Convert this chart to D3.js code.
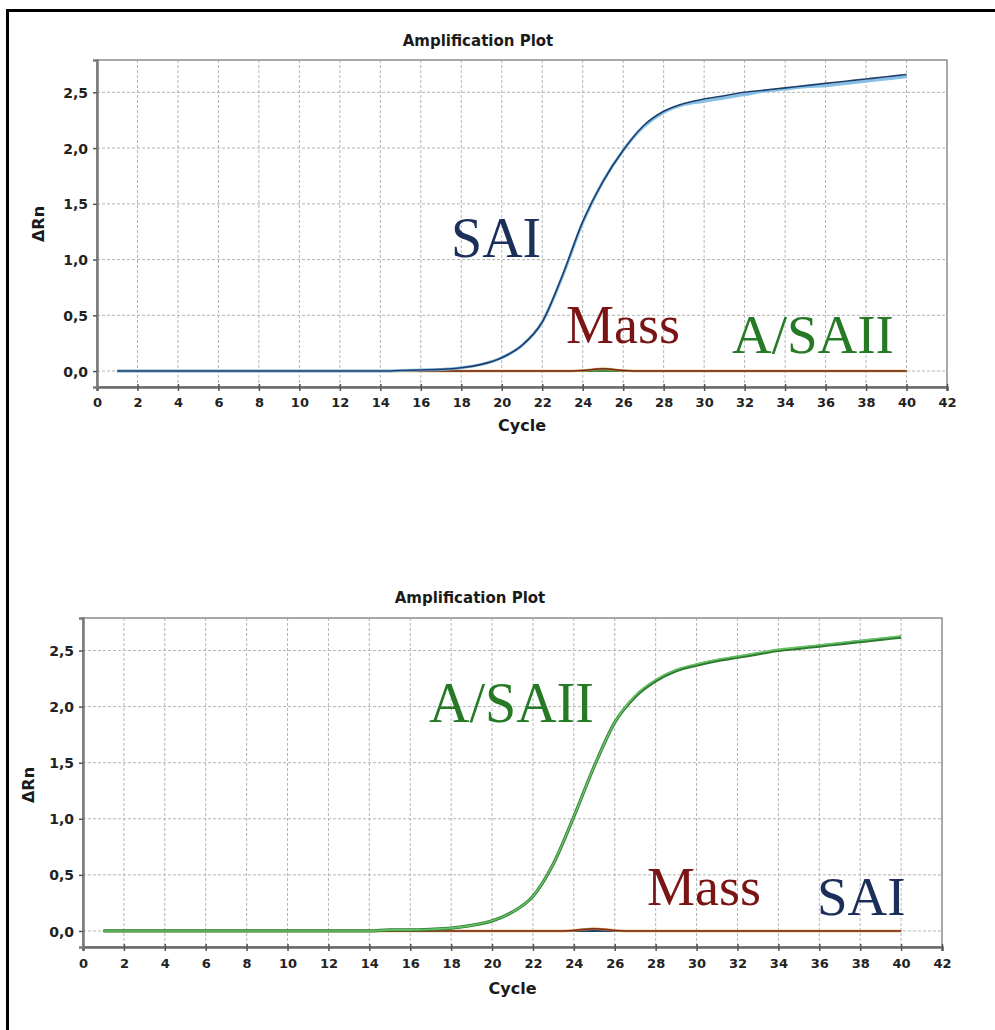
<!DOCTYPE html>
<html>
<head>
<meta charset="utf-8">
<script src="https://cdn.jsdelivr.net/npm/d3@7"></script>
<style>
  body { margin: 0; background: #fff; }
  svg { display: block; }
  .tick-lbl { font-family: "DejaVu Sans", sans-serif; font-weight: bold; fill: #222; }
  .ttl { font-family: "DejaVu Sans", sans-serif; font-weight: bold; fill: #1a1a1a; }
  .ann { font-family: "Liberation Serif", "Times New Roman", serif; }
</style>
</head>
<body>
<div id="chart"></div>
<script>
var cycles = [1,2,3,4,5,6,7,8,9,10,11,12,13,14,15,16,17,18,19,20,
              21,22,23,24,25,26,27,28,29,30,31,32,33,34,35,36,37,38,39,40];

var xTicks = [0,2,4,6,8,10,12,14,16,18,20,22,24,26,28,30,32,34,36,38,40,42];
var yTicks = [0, 0.5, 1.0, 1.5, 2.0, 2.5];

// top plot: SAI amplifies
var saiTopA = [0,0,0,0,0,0,0,0,0,0,0,0,0,0,0.005,0.01,0.015,0.03,0.06,0.12,
               0.23,0.44,0.86,1.34,1.70,1.98,2.20,2.33,2.40,2.44,2.47,2.50,2.52,2.54,2.56,2.58,2.60,2.62,2.64,2.66];
var saiTopB = [0,0,0,0,0,0,0,0,0,0,0,0,0,0,0.005,0.01,0.015,0.03,0.06,0.12,
               0.23,0.44,0.85,1.33,1.70,1.98,2.19,2.32,2.39,2.42,2.45,2.48,2.51,2.53,2.55,2.56,2.58,2.60,2.62,2.64];
var massTop = [0,0,0,0,0,0,0,0,0,0,0,0,0,0,0,0,0,0,0,0,
               0,0,0,0.005,0.02,0.005,0,0,0,0,0,0,0,0,0,0,0,0,0,0];
var asaiiTop = [0,0,0,0,0,0,0,0,0,0,0,0,0,0,0,0,0,0,0,0,
                0,0,0,0,0,0,0,0,0,0,0,0,0,0,0,0,0,0,0,0];

// bottom plot: A/SAII amplifies
var asaiiBotA = [0,0,0,0,0,0,0,0,0,0,0,0,0,0,0.01,0.01,0.015,0.025,0.05,0.09,
                 0.17,0.31,0.60,1.02,1.47,1.86,2.10,2.24,2.33,2.38,2.42,2.45,2.48,2.51,2.53,2.55,2.57,2.59,2.61,2.63];
var asaiiBotB = [0,0,0,0,0,0,0,0,0,0,0,0,0,0,0.01,0.01,0.015,0.025,0.05,0.09,
                 0.17,0.31,0.60,1.02,1.47,1.86,2.09,2.23,2.32,2.37,2.41,2.44,2.47,2.50,2.52,2.54,2.56,2.58,2.60,2.62];
var massBot = [0,0,0,0,0,0,0,0,0,0,0,0,0,0,0,0,0,0,0,0,
               0,0,0,0.005,0.02,0.005,0,0,0,0,0,0,0,0,0,0,0,0,0,0];
var saiBot = [0,0,0,0,0,0,0,0,0,0,0,0,0,0,0,0,0,0,0,0,
              0,0,0,0,0,0,0,0,0,0,0,0,0,0,0,0,0,0,0,0];

var svg = d3.select("#chart").append("svg")
    .attr("width", 995)
    .attr("height", 1030);

// outer box (only top and left edges are in view)
svg.append("line").attr("x1", 7.5).attr("y1", 10).attr("x2", 7.5).attr("y2", 1030)
    .attr("stroke", "#000").attr("stroke-width", 3);
svg.append("line").attr("x1", 6).attr("y1", 10.5).attr("x2", 995).attr("y2", 10.5)
    .attr("stroke", "#000").attr("stroke-width", 3);

function fmt(v) { return d3.format(".1f")(v).replace(".", ","); }

function drawPlot(p) {
  var x = d3.scaleLinear().domain([0, 42]).range([p.left, p.right]),
      y = d3.scaleLinear().domain([-0.143, 2.79]).range([p.bottom, p.top]);

  var g = svg.append("g");

  // grid
  g.selectAll(".vg").data(xTicks.slice(1, -1)).enter().append("line")
      .attr("x1", function(d) { return x(d); }).attr("x2", function(d) { return x(d); })
      .attr("y1", p.top).attr("y2", p.bottom)
      .attr("stroke", "#b4b4b4").attr("stroke-dasharray", "3,2");
  g.selectAll(".hg").data(yTicks).enter().append("line")
      .attr("x1", p.left).attr("x2", p.right)
      .attr("y1", function(d) { return y(d); }).attr("y2", function(d) { return y(d); })
      .attr("stroke", "#b4b4b4").attr("stroke-dasharray", "3,2");

  // frame
  g.append("rect").attr("x", p.left).attr("y", p.top)
      .attr("width", p.right - p.left).attr("height", p.bottom - p.top)
      .attr("fill", "none").attr("stroke", "#8c8c8c").attr("stroke-width", 1.5);

  // axes
  var xAxis = g.append("g").attr("transform", "translate(0," + p.bottom + ")")
      .call(d3.axisBottom(x).tickValues(xTicks).tickSize(4).tickFormat(""));
  xAxis.select(".domain").attr("stroke", "#6a6a6a").attr("stroke-width", 2.5);
  xAxis.selectAll(".tick line").attr("y1", -3).attr("stroke", "#555").attr("stroke-width", 1.5);
  xAxis.selectAll(".tick").append("text").attr("class", "tick-lbl")
      .attr("y", p.xLblY - p.bottom).attr("text-anchor", "middle")
      .attr("font-size", 13).text(function(d) { return d; });

  var yAxis = g.append("g").attr("transform", "translate(" + p.left + ",0)")
      .call(d3.axisLeft(y).tickValues(yTicks).tickSize(4).tickFormat(""));
  yAxis.select(".domain").attr("stroke", "#7a7a7a").attr("stroke-width", 2.5);
  yAxis.selectAll(".tick line").attr("stroke", "#555").attr("stroke-width", 1.5);
  yAxis.selectAll(".tick").append("text").attr("class", "tick-lbl")
      .attr("x", -9).attr("dy", "0.36em").attr("text-anchor", "end")
      .attr("font-size", 14).text(function(d) { return fmt(d); });

  // titles
  g.append("text").attr("class", "ttl").attr("x", p.titleX).attr("y", p.titleY)
      .attr("text-anchor", "middle").attr("font-size", 15).text("Amplification Plot");
  g.append("text").attr("class", "ttl").attr("x", (p.left + p.right) / 2).attr("y", p.cycleY)
      .attr("text-anchor", "middle").attr("font-size", 16).text("Cycle");
  g.append("text").attr("class", "ttl")
      .attr("transform", "translate(" + p.yTitleX + "," + p.yTitleY + ") rotate(-90)")
      .attr("text-anchor", "middle").attr("dy", "0.35em").attr("font-size", 16).text("\u0394Rn");

  // curves
  var line = d3.line()
      .x(function(d) { return x(d[0]); })
      .y(function(d) { return y(d[1]); })
      .curve(d3.curveMonotoneX);

  p.series.forEach(function(s) {
    g.append("path")
        .datum(cycles.map(function(c, i) { return [c, s.values[i]]; }))
        .attr("fill", "none")
        .attr("stroke", s.color)
        .attr("stroke-width", s.width)
        .attr("d", line);
  });

  // annotations
  p.labels.forEach(function(l) {
    g.append("text").attr("class", "ann")
        .attr("x", l.x).attr("y", l.y)
        .attr("font-size", l.size).attr("fill", l.color).text(l.text);
  });
}

drawPlot({
  left: 97, right: 947, top: 60, bottom: 387,
  xLblY: 407, cycleY: 431, titleX: 478, titleY: 46, yTitleX: 38, yTitleY: 224,
  series: [
    {values: asaiiTop, color: "#3d8b3d", width: 2},
    {values: massTop, color: "#d39a3a", width: 2.5},
    {values: massTop, color: "#6e2a22", width: 1.5},
    {values: saiTopB, color: "#86c0e6", width: 3},
    {values: saiTopA, color: "#1f3f6b", width: 1.6}
  ],
  labels: [
    {text: "SAI", x: 451, y: 257, size: 56, color: "#1b2f5a"},
    {text: "Mass", x: 566, y: 343, size: 54, color: "#7b1515"},
    {text: "A/SAII", x: 732, y: 353, size: 55, color: "#267a26"}
  ]
});

drawPlot({
  left: 83, right: 942, top: 618, bottom: 947,
  xLblY: 968, cycleY: 994, titleX: 470, titleY: 603, yTitleX: 28, yTitleY: 785,
  series: [
    {values: saiBot, color: "#1f3f6b", width: 2},
    {values: massBot, color: "#d39a3a", width: 2.5},
    {values: massBot, color: "#7a2a22", width: 1.5},
    {values: asaiiBotB, color: "#2f7a30", width: 3.2},
    {values: asaiiBotA, color: "#66c266", width: 1.6}
  ],
  labels: [
    {text: "A/SAII", x: 429, y: 722, size: 56, color: "#267a26"},
    {text: "Mass", x: 647, y: 905, size: 54, color: "#7b1515"},
    {text: "SAI", x: 817, y: 915, size: 55, color: "#1b2f5a"}
  ]
});
</script>
</body>
</html>
